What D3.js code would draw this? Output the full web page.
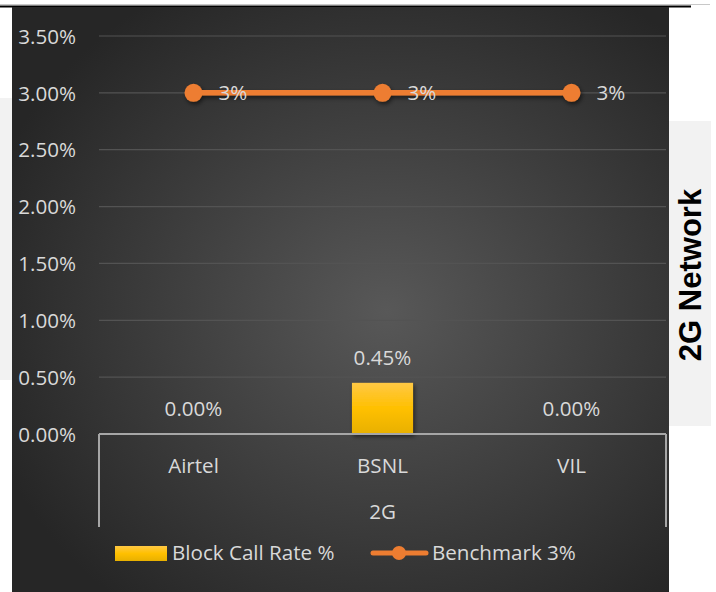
<!DOCTYPE html>
<html>
<head>
<meta charset="utf-8">
<script src="https://cdn.jsdelivr.net/npm/d3@7"></script>
<style>
  html, body { margin: 0; padding: 0; background: #fff; }
  svg { display: block; font-family: "Open Sans", sans-serif; }
</style>
</head>
<body>
<div id="chart"></div>
<script>
var categories = ["Airtel", "BSNL", "VIL"];
var blockCallRate = [0.00, 0.45, 0.00];
var benchmark = [3, 3, 3];
var yTicks = [0, 0.5, 1, 1.5, 2, 2.5, 3, 3.5];
var groupLabel = "2G";
var sideTitle = "2G Network";
var legendNames = ["Block Call Rate %", "Benchmark 3%"];

var width = 716, height = 592;
var textColor = "#d9d9d9";
var fontSize = "20.6px";

var svg = d3.select("#chart").append("svg")
  .attr("width", width)
  .attr("height", height);

var defs = svg.append("defs");
var bg = defs.append("radialGradient").attr("id", "bg")
  .attr("cx", "57%").attr("cy", "52%").attr("r", "64%");
bg.append("stop").attr("offset", "0%").attr("stop-color", "#585858");
bg.append("stop").attr("offset", "100%").attr("stop-color", "#262626");

var barGrad = defs.append("linearGradient").attr("id", "barGrad")
  .attr("x1", 0).attr("y1", 0).attr("x2", 0).attr("y2", 1);
barGrad.append("stop").attr("offset", "0%").attr("stop-color", "#ffc844");
barGrad.append("stop").attr("offset", "50%").attr("stop-color", "#ffc000");
barGrad.append("stop").attr("offset", "100%").attr("stop-color", "#e8b000");

var shadow = defs.append("filter").attr("id", "shadow")
  .attr("x", "-20%").attr("y", "-50%").attr("width", "140%").attr("height", "200%");
shadow.append("feDropShadow").attr("dx", 1.5).attr("dy", 2.5)
  .attr("stdDeviation", 2).attr("flood-color", "#000").attr("flood-opacity", 0.55);

// page bits around the chart
svg.append("line").attr("x1", 0).attr("x2", 710).attr("y1", 4.5).attr("y2", 4.5)
  .attr("stroke", "#c8c8c8").attr("stroke-width", 1);
svg.append("line").attr("x1", 0).attr("x2", 691).attr("y1", 6.5).attr("y2", 6.5)
  .attr("stroke", "#000").attr("stroke-width", 2);
svg.append("rect").attr("x", 0).attr("y", 98).attr("width", 12).attr("height", 282)
  .attr("fill", "#f2f2f2");
svg.append("rect").attr("x", 669).attr("y", 121).attr("width", 42).attr("height", 305)
  .attr("fill", "#f2f2f2");
svg.append("text")
  .attr("transform", "translate(701,275) rotate(-90)")
  .attr("text-anchor", "middle")
  .style("font-family", "'Liberation Sans', Arial, sans-serif")
  .style("font-weight", "bold")
  .style("font-size", "31px")
  .attr("fill", "#000")
  .text(sideTitle);

// chart area
svg.append("rect").attr("x", 12).attr("y", 7).attr("width", 657).attr("height", 585)
  .attr("fill", "url(#bg)");

var x = d3.scaleBand().domain(categories).range([99, 666]);
var y = d3.scaleLinear().domain([0, 3.5]).range([434, 36]);

// gridlines
svg.append("g").selectAll("line").data(yTicks.slice(1)).enter().append("line")
  .attr("x1", 99).attr("x2", 666)
  .attr("y1", function(d) { return y(d); }).attr("y2", function(d) { return y(d); })
  .attr("stroke", "#535353").attr("stroke-width", 1.2);

// y axis labels
var yAxis = d3.axisLeft(y).tickValues(yTicks).tickSize(0).tickPadding(0)
  .tickFormat(function(d) { return d3.format(".2f")(d) + "%"; });
var yg = svg.append("g").attr("transform", "translate(76,0)").call(yAxis);
yg.select(".domain").remove();
yg.selectAll("text").attr("fill", textColor).style("font-size", fontSize)
  .style("font-family", "'Open Sans', sans-serif").attr("dy", "0.35em");

// bars
var barW = x.bandwidth() * 0.323;
svg.append("g").selectAll("rect").data(blockCallRate).enter().append("rect")
  .attr("x", function(d, i) { return x(categories[i]) + x.bandwidth() / 2 - barW / 2; })
  .attr("y", function(d) { return y(d); })
  .attr("width", barW)
  .attr("height", function(d) { return y(0) - y(d); })
  .attr("fill", "url(#barGrad)")
  .attr("filter", "url(#shadow)");

svg.append("g").selectAll("text").data(blockCallRate).enter().append("text")
  .attr("x", function(d, i) { return x(categories[i]) + x.bandwidth() / 2; })
  .attr("y", function(d) { return y(d) - 18; })
  .attr("text-anchor", "middle")
  .attr("fill", textColor).style("font-size", fontSize)
  .text(function(d) { return d.toFixed(2) + "%"; });

// category axis
var axisG = svg.append("g").attr("stroke", "#a6a6a6").attr("stroke-width", 2).attr("fill", "none");
axisG.append("line").attr("x1", 99).attr("x2", 666).attr("y1", y(0)).attr("y2", y(0));
axisG.append("line").attr("x1", 99).attr("x2", 99).attr("y1", y(0)).attr("y2", 527);
axisG.append("line").attr("x1", 666).attr("x2", 666).attr("y1", y(0)).attr("y2", 527);

svg.append("g").selectAll("text").data(categories).enter().append("text")
  .attr("x", function(d) { return x(d) + x.bandwidth() / 2; })
  .attr("y", 473)
  .attr("text-anchor", "middle")
  .attr("fill", textColor).style("font-size", fontSize)
  .text(function(d) { return d; });

svg.append("text").attr("x", (99 + 666) / 2).attr("y", 519)
  .attr("text-anchor", "middle")
  .attr("fill", textColor).style("font-size", fontSize)
  .text(groupLabel);

// benchmark line
var line = d3.line()
  .x(function(d, i) { return x(categories[i]) + x.bandwidth() / 2; })
  .y(function(d) { return y(d); });
var lineG = svg.append("g").attr("filter", "url(#shadow)");
lineG.append("path").datum(benchmark)
  .attr("d", line)
  .attr("fill", "none").attr("stroke", "#ed7d31").attr("stroke-width", 5.5);
lineG.selectAll("circle").data(benchmark).enter().append("circle")
  .attr("cx", function(d, i) { return x(categories[i]) + x.bandwidth() / 2; })
  .attr("cy", function(d) { return y(d); })
  .attr("r", 9)
  .attr("fill", "#ed7d31");

svg.append("g").selectAll("text").data(benchmark).enter().append("text")
  .attr("x", function(d, i) { return x(categories[i]) + x.bandwidth() / 2 + 25; })
  .attr("y", function(d) { return y(d); })
  .attr("dy", "0.35em")
  .attr("fill", textColor).style("font-size", fontSize)
  .text(function(d) { return d + "%"; });

// legend
var leg = svg.append("g");
leg.append("rect").attr("x", 115).attr("y", 546).attr("width", 52).attr("height", 15)
  .attr("fill", "url(#barGrad)");
leg.append("text").attr("x", 172).attr("y", 560)
  .attr("fill", textColor).style("font-size", fontSize).text(legendNames[0]);
leg.append("line").attr("x1", 373).attr("x2", 426).attr("y1", 553).attr("y2", 553)
  .attr("stroke", "#ed7d31").attr("stroke-width", 5).attr("stroke-linecap", "round");
leg.append("circle").attr("cx", 399).attr("cy", 553).attr("r", 7).attr("fill", "#ed7d31");
leg.append("text").attr("x", 432).attr("y", 560)
  .attr("fill", textColor).style("font-size", fontSize).text(legendNames[1]);
</script>
</body>
</html>
